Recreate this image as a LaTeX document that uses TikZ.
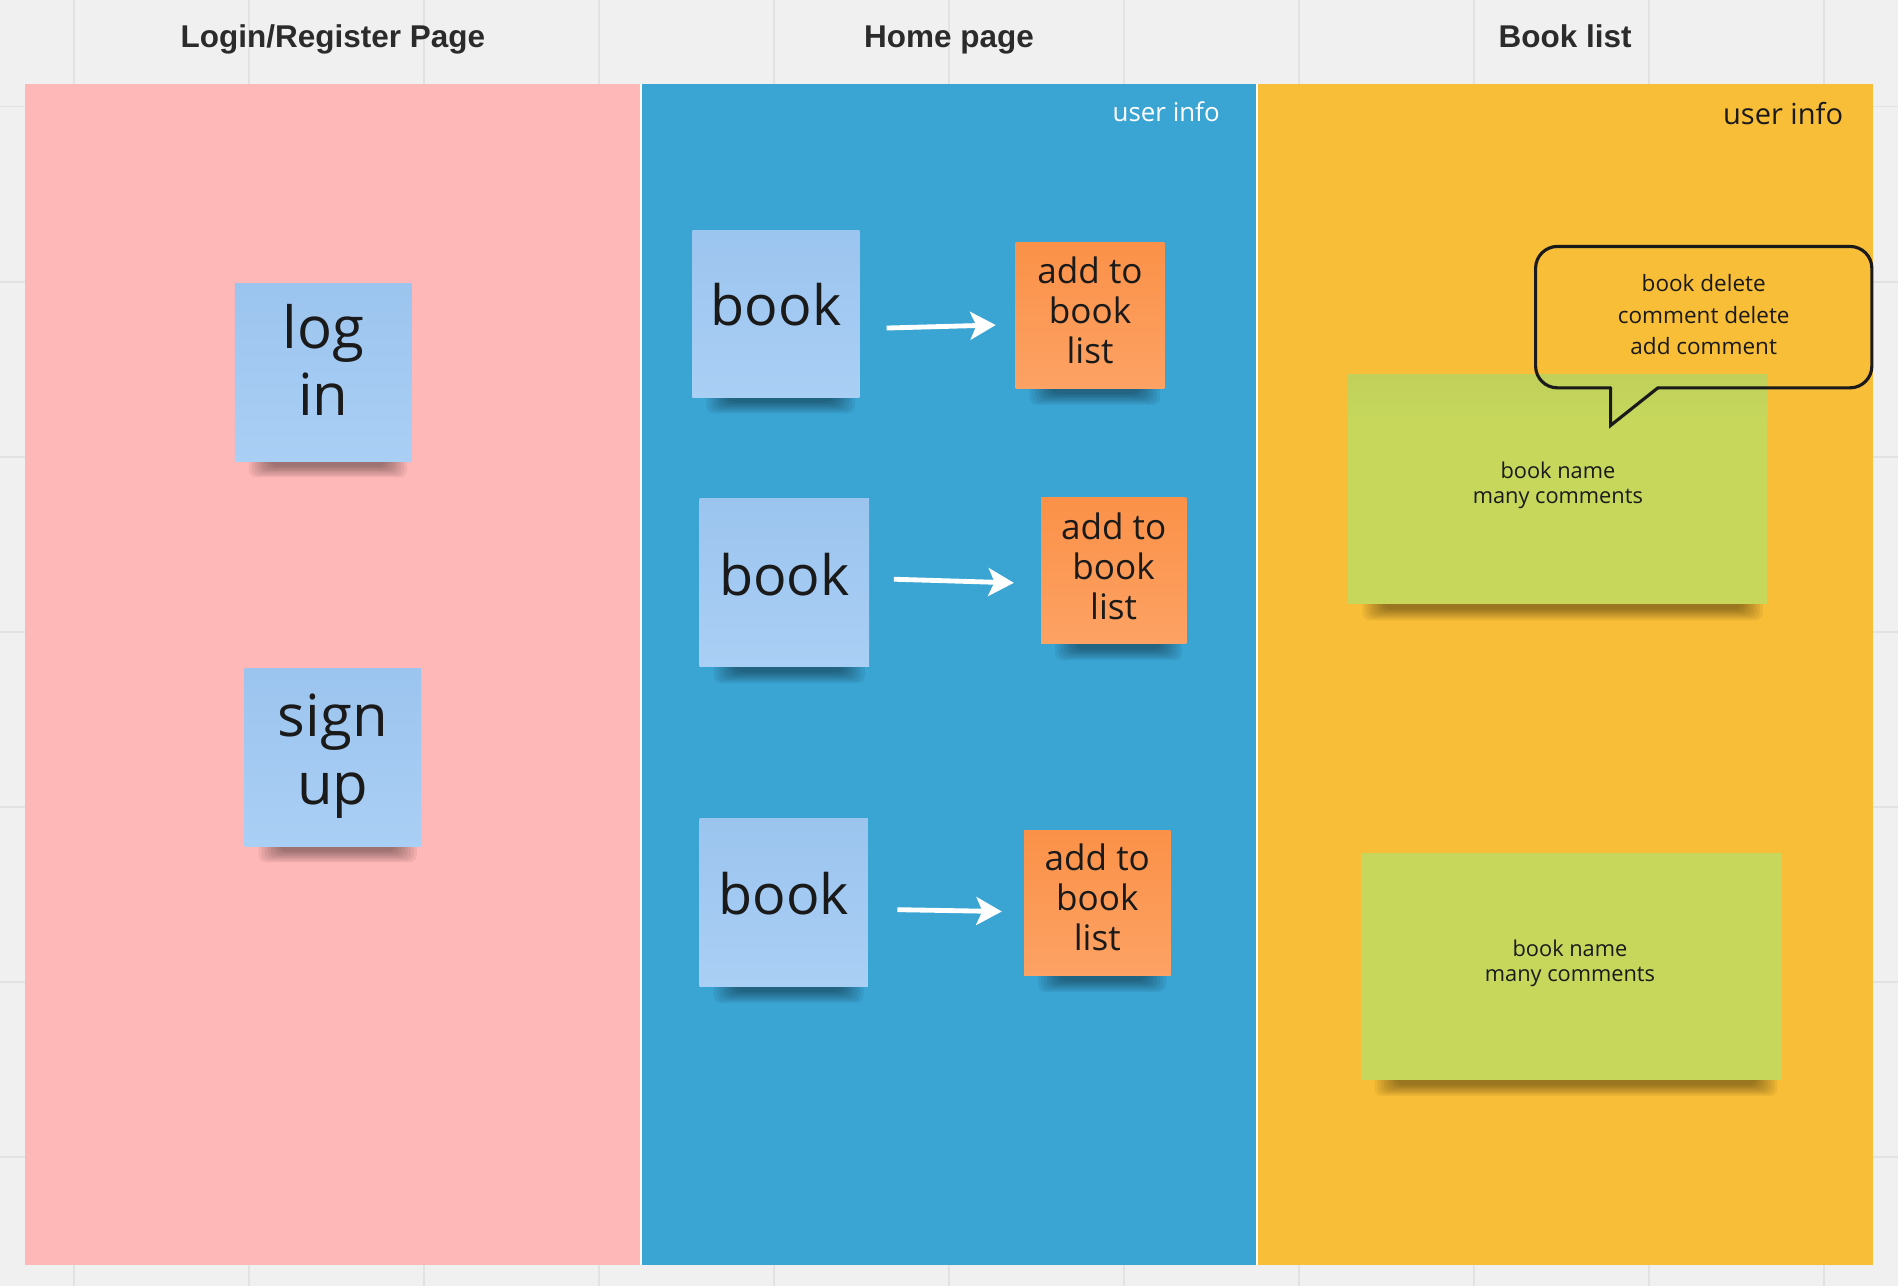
\documentclass[tikz,border=0pt]{standalone}
\usepackage{fontspec}
\newfontfamily\osans{Open Sans}
\newfontfamily\tsans{Liberation Sans}
\usetikzlibrary{calc,backgrounds,arrows.meta}
\definecolor{bgc}{HTML}{F0F0F0}
\definecolor{gridc}{HTML}{E2E2E2}
\definecolor{pinkc}{HTML}{FEB8B7}
\definecolor{bluec}{HTML}{3AA4D3}
\definecolor{yellowc}{HTML}{F8BE37}
\definecolor{stbtop}{HTML}{9BC4EE}
\definecolor{stbbot}{HTML}{AACFF5}
\definecolor{sttop}{HTML}{FB9148}
\definecolor{stbot}{HTML}{FCA264}
\definecolor{greenc}{HTML}{C6D75C}
\definecolor{greentop}{HTML}{C0D05A}
\definecolor{inkc}{HTML}{1A1A1A}
\definecolor{titlec}{HTML}{2B2B2B}
\newcommand{\stickyshade}[1]{%
  \foreach \k in {0,...,7}{%
    \fill[black,opacity=0.055,rounded corners=3pt]
      ($(#1.south west)+(12+2.5*\k,-10)$) rectangle ($(#1.south east)+(-4-2.5*\k,13-1.3*\k)$);
  }}
\tikzset{
  gridline/.style={draw=gridc,line width=0.8pt},
  paneltitle/.style={font=\tsans\bfseries\fontsize{13pt}{15pt}\selectfont,text=titlec,inner sep=0,anchor=base},
  bluenote/.style={rectangle,top color=stbtop,bottom color=stbbot,draw=none,inner sep=0},
  orangenote/.style={rectangle,top color=sttop,bottom color=stbot,draw=none,inner sep=0},
  greennote/.style={rectangle,fill=greenc,draw=none,inner sep=0},
  bigtext/.style={inner sep=0,align=center,text=inkc,font=\osans\fontsize{24pt}{27.5pt}\selectfont},
  booktext/.style={inner sep=0,align=center,text=inkc,font=\osans\fontsize{23pt}{27pt}\selectfont},
  addtext/.style={inner sep=0,align=center,text=inkc,font=\osans\fontsize{14.5pt}{16.5pt}\selectfont},
  smalltext/.style={inner sep=0,align=center,text=inkc,font=\osans\fontsize{9pt}{10.2pt}\selectfont},
  bubbletext/.style={inner sep=0,align=center,text=inkc,
    font=\osans\fontsize{9.3pt}{13pt}\selectfont},
  bubbleline/.style={draw=inkc,line width=1.3pt},
  flowarrow/.style={draw=white,line width=2pt,
    -{Stealth[length=10.5pt,width=11.5pt,inset=2.5pt]}},
}
\begin{document}
\begin{tikzpicture}[x=0.5pt,y=-0.5pt]
\useasboundingbox (0,0) rectangle (1568,1062);
\begin{scope}[on background layer]
  \fill[bgc] (0,0) rectangle (1568,1062);
  \foreach \i in {0,...,10}{\draw[gridline] (61+144.6*\i,0) -- (61+144.6*\i,1062);}
  \foreach \j in {0,...,6}{\draw[gridline] (0,88+144.6*\j) -- (1568,88+144.6*\j);}
  \fill[pinkc] (21,69) rectangle (529.5,1045);
  \fill[bluec] (529.5,69) rectangle (1038.5,1045);
  \fill[yellowc] (1038.5,69) rectangle (1547,1045);
  \draw[white,line width=0.6pt] (529.5,69) -- (529.5,1045);
  \draw[white,line width=0.6pt] (1038.5,69) -- (1038.5,1045);
\end{scope}

% titles
\node[paneltitle] (t1) at (275,39.5) {Login/Register Page};
\node[paneltitle] (t2) at (784,39.5) {Home page};
\node[paneltitle] (t3) at (1293,39.5) {Book list};

% user info labels
\node[anchor=east,inner sep=0,text=white,font=\osans\fontsize{10.7pt}{12pt}\selectfont] (ui1) at (1008,92) {user info};
\node[anchor=east,inner sep=0,text=inkc,font=\osans\fontsize{12pt}{14pt}\selectfont] (ui2) at (1523,94) {user info};

% login / register
\node[bluenote,minimum width=73pt,minimum height=73.5pt] (login) at (267,307.5) {};
\node[bigtext] (logintxt) at ($(login)+(0,-10)$) {log\\in};
\node[bluenote,minimum width=73pt,minimum height=73.5pt] (signup) at (275,625.5) {};
\node[bigtext,font=\osans\fontsize{24pt}{28pt}\selectfont] (signuptxt) at ($(signup)+(0,-1)$) {sign\\up};

% home page
\node[bluenote,minimum width=69pt,minimum height=69pt] (book1) at (641,259) {};
\node[booktext] (book1txt) at ($(book1)+(0,-7)$) {book};
\node[bluenote,minimum width=70pt,minimum height=69.5pt] (book2) at (648,481.5) {};
\node[booktext] (book2txt) at ($(book2)+(0,-7)$) {book};
\node[bluenote,minimum width=69.5pt,minimum height=69.5pt] (book3) at (647.5,745.5) {};
\node[booktext] (book3txt) at ($(book3)+(0,-7)$) {book};

\node[orangenote,minimum width=61.5pt,minimum height=60.5pt] (add1) at (900.5,260.5) {};
\node[addtext] (add1txt) at ($(add1)+(0,-4.5)$) {add to\\book\\list};
\node[orangenote,minimum width=60pt,minimum height=60.5pt] (add2) at (920,471.5) {};
\node[addtext] (add2txt) at ($(add2)+(0,-3.5)$) {add to\\book\\list};
\node[orangenote,minimum width=60.5pt,minimum height=60pt] (add3) at (906.5,746) {};
\node[addtext] (add3txt) at ($(add3)+(0,-4.5)$) {add to\\book\\list};

\draw[flowarrow] ($(book1.east)+(22,12)$) -- ($(add1.west)+(-16,8)$);
\draw[flowarrow] ($(book2.east)+(20,-3)$) -- ($(add2.west)+(-22,10)$);
\draw[flowarrow] ($(book3.east)+(24,6)$) -- ($(add3.west)+(-18,7)$);

% book list
\node[greennote,minimum width=173pt,minimum height=94.5pt] (green1) at (1287,404.5) {};
\shade[top color=greentop,bottom color=greenc] (green1.north west) rectangle ($(green1.north east)+(0,36)$);
\node[smalltext] (g1text) at (1287,401) {book name\\many comments};
\node[greennote,minimum width=174pt,minimum height=93.5pt] (green2) at (1298,798.5) {};
\node[smalltext] (g2text) at (1297,796) {book name\\many comments};

% speech bubble
\node[minimum width=138.5pt,minimum height=58pt,inner sep=0] (bubble) at (1407.5,262) {};
\node[bubbletext] (bubbletxt) at ($(bubble)+(0,-2)$) {book delete\\comment delete\\add comment};
\coordinate (tailL) at ($(bubble.south west)+(62,0)$);
\coordinate (tailR) at ($(bubble.south west)+(101,0)$);
\coordinate (tip) at ($(bubble.south west)+(62,31)$);
\draw[bubbleline,rounded corners=9pt,line cap=round] (tailR) -- (bubble.south east) -- (bubble.north east) -- (bubble.north west) -- (bubble.south west) -- (tailL);
\draw[bubbleline,line cap=round] (tailL) -- (tip) -- (tailR);

% shadows
\begin{scope}[on background layer]
  \stickyshade{login}
  \stickyshade{signup}
  \stickyshade{book1}
  \stickyshade{book2}
  \stickyshade{book3}
  \stickyshade{add1}
  \stickyshade{add2}
  \stickyshade{add3}
  \stickyshade{green1}
  \stickyshade{green2}
\end{scope}
\end{tikzpicture}
\end{document}
